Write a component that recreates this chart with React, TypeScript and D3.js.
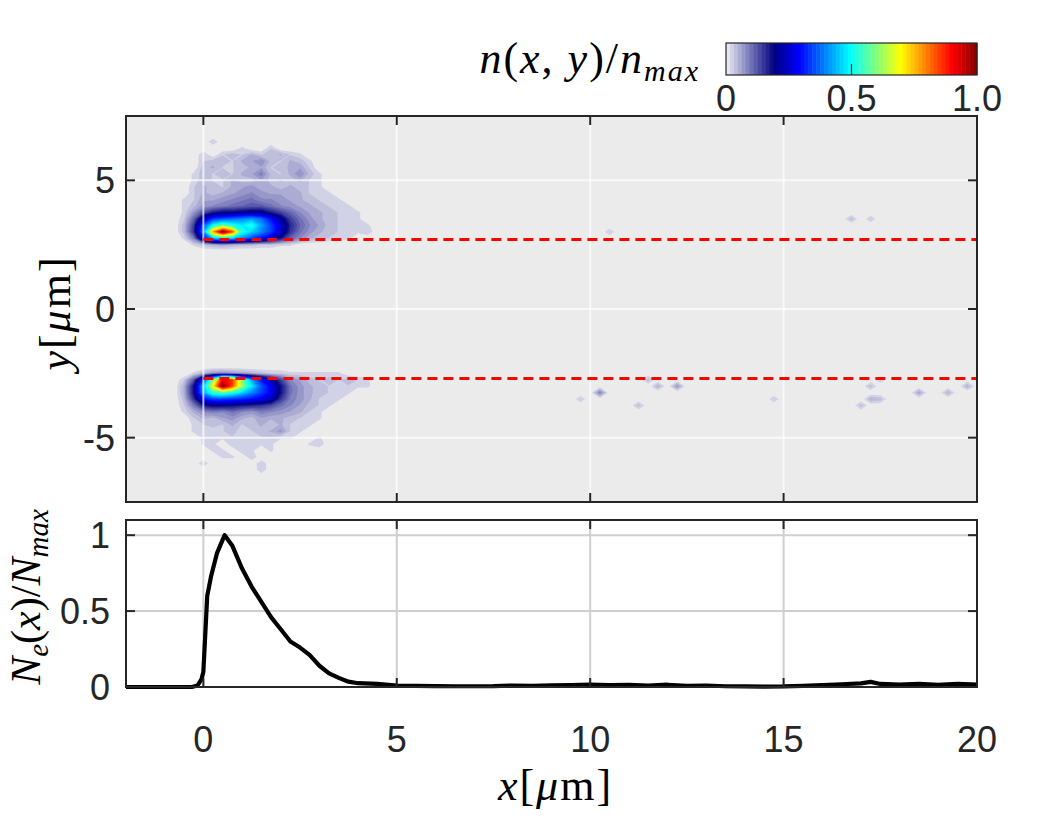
import React, { useMemo } from 'react';
import * as d3 from 'd3';

// density grid: 0.25 µm cells spanning x -2..20, y 7.5..-7.5
const GRID_X0 = -2;
const GRID_Y0 = 7.5;
const GRID_STEP = 0.25;
const GRID_NX = 89;
const GRID_NY = 61;

// upper beam, percent of n_max; first row at y=6.5, first column at x=-0.5
const upperBeamX0 = -0.5;
const upperBeamY0 = 6.5;
const upperBeam = [
  [0, 0, 0, 3, 0, 0, 0, 0, 0, 0, 0, 0, 0, 0, 0, 0, 0, 0, 0, 0, 0],
  [0, 0, 0, 0, 0, 0, 2, 0, 0, 3, 0, 0, 0, 0, 0, 0, 0, 0, 0, 0, 0],
  [0, 0, 3, 0, 3, 4, 3, 5, 3, 4, 5, 3, 2, 0, 0, 0, 0, 0, 0, 0, 0],
  [0, 0, 3, 4, 4, 3, 5, 6, 8, 4, 3, 5, 4, 2, 0, 0, 0, 0, 0, 0, 0],
  [0, 0, 4, 5, 3, 3, 4, 5, 6, 3, 4, 5, 6, 3, 0, 0, 0, 0, 0, 0, 0],
  [0, 2, 4, 3, 4, 3, 5, 6, 9, 4, 3, 5, 8, 4, 2, 0, 0, 0, 0, 0, 0],
  [0, 2, 4, 3, 3, 5, 4, 4, 6, 4, 5, 4, 5, 3, 2, 0, 0, 0, 0, 0, 0],
  [0, 3, 5, 4, 3, 5, 6, 7, 5, 5, 4, 5, 4, 3, 2, 0, 0, 0, 0, 0, 0],
  [0, 3, 5, 4, 5, 6, 7, 8, 7, 6, 6, 5, 5, 3, 2, 2, 0, 0, 0, 0, 0],
  [2, 3, 6, 6, 7, 8, 9, 10, 8, 8, 7, 6, 5, 4, 3, 2, 2, 0, 0, 0, 0],
  [2, 4, 7, 8, 9, 10, 11, 12, 12, 10, 8, 7, 6, 5, 4, 3, 2, 2, 0, 0, 0],
  [2, 7, 13, 17, 19, 19, 20, 21, 21, 17, 14, 11, 8, 6, 5, 4, 3, 2, 2, 0, 0],
  [3, 11, 25, 34, 36, 38, 40, 42, 38, 30, 22, 14, 10, 7, 5, 4, 3, 3, 2, 0, 0],
  [4, 14, 36, 50, 58, 52, 48, 52, 42, 34, 25, 16, 11, 8, 6, 4, 3, 3, 2, 2, 0],
  [4, 15, 40, 78, 100, 84, 52, 46, 40, 34, 25, 15, 10, 7, 5, 4, 3, 3, 2, 3, 0],
  [2, 9, 28, 44, 48, 46, 40, 34, 30, 24, 18, 11, 8, 5, 4, 3, 2, 2, 0, 0, 0],
  [0, 2, 4, 5, 6, 5, 4, 4, 3, 3, 2, 2, 0, 0, 0, 0, 0, 0, 0, 0, 0],
];

// lower beam, percent of n_max; first row at y=-2.5, first column at x=-0.5
const lowerBeamX0 = -0.5;
const lowerBeamY0 = -2.5;
const lowerBeam = [
  [0, 2, 5, 7, 8, 7, 6, 5, 4, 3, 3, 2, 2, 2, 2, 2, 2, 0, 0, 0, 0],
  [3, 12, 34, 60, 92, 86, 60, 42, 30, 22, 14, 8, 6, 4, 3, 4, 3, 4, 3, 2, 0],
  [5, 18, 44, 70, 100, 84, 62, 48, 36, 28, 18, 10, 7, 5, 4, 3, 3, 3, 2, 2, 0],
  [5, 18, 42, 54, 56, 52, 46, 40, 34, 28, 18, 10, 7, 5, 4, 3, 2, 2, 0, 0, 0],
  [4, 15, 30, 34, 34, 33, 32, 30, 28, 24, 15, 9, 7, 5, 3, 2, 2, 0, 0, 0, 0],
  [3, 9, 17, 19, 19, 18, 17, 16, 15, 13, 10, 8, 6, 4, 3, 2, 0, 0, 0, 0, 0],
  [2, 5, 8, 9, 8, 10, 8, 7, 9, 8, 7, 6, 5, 3, 2, 0, 0, 0, 0, 0, 0],
  [0, 3, 5, 4, 6, 7, 5, 4, 6, 5, 5, 4, 3, 3, 2, 0, 0, 0, 0, 0, 0],
  [0, 2, 3, 4, 3, 5, 3, 4, 5, 3, 5, 3, 3, 2, 0, 0, 0, 0, 0, 0, 0],
  [0, 2, 3, 2, 3, 4, 2, 3, 4, 5, 7, 3, 2, 0, 0, 0, 0, 0, 0, 0, 0],
  [0, 0, 2, 3, 2, 3, 2, 2, 3, 3, 2, 2, 0, 0, 2, 0, 0, 0, 0, 0, 0],
  [0, 0, 2, 2, 0, 3, 2, 3, 2, 2, 0, 0, 0, 2, 3, 0, 0, 0, 0, 0, 0],
  [0, 0, 0, 2, 2, 0, 3, 2, 0, 2, 0, 0, 0, 0, 0, 0, 0, 0, 0, 0, 0],
  [0, 0, 0, 0, 2, 2, 0, 3, 0, 0, 0, 0, 0, 0, 0, 0, 0, 0, 0, 0, 0],
  [0, 0, 3, 0, 0, 0, 0, 0, 3, 0, 0, 0, 0, 0, 0, 0, 0, 0, 0, 0, 0],
  [0, 0, 0, 0, 0, 0, 0, 0, 3, 0, 0, 0, 0, 0, 0, 0, 0, 0, 0, 0, 0],
];

// isolated electrons further downstream (µm, µm, percent of n_max)
const strayX = [9.75, 10.25, 11.25, 11.5, 11.75, 12.25, 14.75, 17.0, 17.25, 17.25, 17.5, 17.5, 18.5, 19.25, 19.75, 16.75, 17.25, 10.5];
const strayY = [-3.5, -3.25, -3.75, -2.75, -3.0, -3.0, -3.5, -3.75, -3.0, -3.5, -2.75, -3.5, -3.25, -3.25, -3.0, 3.5, 3.5, 3.0];
const strayN = [3, 9, 4, 4, 5, 7, 3, 4, 4, 5, 3, 4, 6, 5, 5, 4, 3, 3];

// channel walls (µm)
const wallY = [2.7, -2.7];

// integrated profile N_e(x)/N_max
const profileX = [-2, -1, -0.3, -0.15, -0.05, 0, 0.1, 0.2, 0.35, 0.55, 0.75, 1.0, 1.25, 1.5, 1.75, 2.0, 2.25, 2.5, 2.75, 3.0, 3.25, 3.5, 3.75, 4.0, 4.5, 5.0, 5.5, 6.0, 6.5, 7.0, 7.5, 8.0, 8.5, 9.0, 9.5, 10.0, 10.5, 11.0, 11.5, 12.0, 12.5, 13.0, 13.5, 14.0, 14.5, 15.0, 15.5, 16.0, 16.5, 17.0, 17.25, 17.5, 18.0, 18.5, 19.0, 19.5, 20.0];
const profileN = [0, 0, 0, 0.01, 0.05, 0.1, 0.6, 0.73, 0.88, 1.0, 0.93, 0.78, 0.66, 0.56, 0.46, 0.38, 0.3, 0.26, 0.21, 0.14, 0.09, 0.06, 0.035, 0.025, 0.02, 0.01, 0.007, 0.006, 0.005, 0.005, 0.006, 0.01, 0.008, 0.011, 0.012, 0.015, 0.013, 0.014, 0.01, 0.015, 0.008, 0.01, 0.005, 0.004, 0.003, 0.004, 0.008, 0.012, 0.018, 0.024, 0.034, 0.02, 0.015, 0.02, 0.014, 0.02, 0.015];

const xTicks = [0, 5, 10, 15, 20];
const yTicks = [-5, 0, 5];
const profileTicks = [0, 0.5, 1];
const colorTicks = [0, 0.5, 1.0];
const colorTickLabels = ['0', '0.5', '1.0'];

const N_LEVELS = 64;

// white -> navy, then jet from navy to dark red
function densityColor(t: number) {
  const knee = 0.19;
  if (t < knee) {
    const f = t / knee;
    return d3.rgb(240 * (1 - f), 240 * (1 - f), 244 * (1 - f) + 128 * f).toString();
  }
  const s = (t - knee) / (1 - knee);
  const c = (v: number) => Math.max(0, Math.min(1, v)) * 255;
  return d3.rgb(c(1.5 - Math.abs(4 * s - 3)), c(1.5 - Math.abs(4 * s - 2)), c(1.5 - Math.abs(4 * s - 1))).toString();
}

function buildField() {
  const f = new Array(GRID_NX * GRID_NY).fill(0);
  const put = (x: number, y: number, v: number) => {
    const i = Math.round((x - GRID_X0) / GRID_STEP);
    const j = Math.round((GRID_Y0 - y) / GRID_STEP);
    if (i < 0 || i >= GRID_NX || j < 0 || j >= GRID_NY) return;
    f[j * GRID_NX + i] = Math.max(f[j * GRID_NX + i], v / 100);
  };
  upperBeam.forEach((row, r) =>
    row.forEach((v, c) => put(upperBeamX0 + c * GRID_STEP, upperBeamY0 - r * GRID_STEP, v)));
  lowerBeam.forEach((row, r) =>
    row.forEach((v, c) => put(lowerBeamX0 + c * GRID_STEP, lowerBeamY0 - r * GRID_STEP, v)));
  strayX.forEach((x, i) => put(x, strayY[i], strayN[i]));
  return f;
}

const tickFont = '"Liberation Sans", Arial, Helvetica, sans-serif';
const texFont = '"Liberation Serif", "Times New Roman", serif';
const axisColor = '#262626';

export default function App() {
  const left = 126, right = 977;
  const mapTop = 116, mapBottom = 502;
  const profTop = 520, profBottom = 687;
  const barX0 = 726, barX1 = 977, barY0 = 43, barY1 = 75;
  const tickLen = 9;
  const tickSize = 36;

  const x = d3.scaleLinear().domain([-2, 20]).range([left, right]);
  const y = d3.scaleLinear().domain([-7.5, 7.5]).range([mapBottom, mapTop]);
  const yp = d3.scaleLinear().domain([0, 1.1]).range([profBottom, profTop]);
  const cbar = d3.scaleLinear().domain([0, 1]).range([barX0, barX1]);

  const bands = useMemo(() => {
    const field = buildField();
    const levels = d3.range(1, N_LEVELS).map((k) => k / N_LEVELS);
    const polys = d3.contours().size([GRID_NX, GRID_NY]).thresholds(levels)(field);
    const proj = d3.geoTransform({
      point(px: number, py: number) {
        // cell (i, j) sits at (i + 0.5, j + 0.5) in contour space
        (this as any).stream.point(
          x(GRID_X0 + (px - 0.5) * GRID_STEP),
          y(GRID_Y0 - (py - 0.5) * GRID_STEP),
        );
      },
    });
    const path = d3.geoPath(proj);
    return polys
      .filter((p) => p.coordinates.length > 0)
      .map((p) => {
        const k = Math.round(p.value * N_LEVELS);
        return { d: path(p as any) || '', fill: densityColor((k + 0.5) / N_LEVELS), k };
      });
  }, []);

  const line = d3.line<number>()
    .x((_, i) => x(profileX[i]))
    .y((v) => yp(v));

  const gridX = xTicks.filter((t) => t < 20);

  return (
    <svg width={1050} height={838} style={{ position: 'absolute', left: 0, top: 0, background: '#fff' }}>
      <defs>
        <clipPath id="mapClip">
          <rect x={left} y={mapTop} width={right - left} height={mapBottom - mapTop} />
        </clipPath>
        <clipPath id="profClip">
          <rect x={left} y={profTop - 5} width={right - left} height={profBottom - profTop + 10} />
        </clipPath>
      </defs>

      {/* density map */}
      <rect x={left} y={mapTop} width={right - left} height={mapBottom - mapTop} fill="#ebebeb" />
      <g clipPath="url(#mapClip)">
        {bands.map((b) => (
          <path key={b.k} d={b.d} fill={b.fill} stroke="none" />
        ))}
        {gridX.map((t) => (
          <line key={'gx' + t} x1={x(t)} x2={x(t)} y1={mapTop} y2={mapBottom} stroke="#ffffff" strokeOpacity={0.7} strokeWidth={2} />
        ))}
        {yTicks.map((t) => (
          <line key={'gy' + t} x1={left} x2={right} y1={y(t)} y2={y(t)} stroke="#ffffff" strokeOpacity={0.7} strokeWidth={2} />
        ))}
        {wallY.map((w) => (
          <line key={'w' + w} x1={x(0)} x2={right} y1={y(w)} y2={y(w)} stroke="#ff0000" strokeWidth={3} strokeDasharray="10,6" />
        ))}
      </g>
      <rect x={left} y={mapTop} width={right - left} height={mapBottom - mapTop} fill="none" stroke={axisColor} strokeWidth={2} />
      {gridX.map((t) => (
        <g key={'mt' + t}>
          <line x1={x(t)} x2={x(t)} y1={mapTop} y2={mapTop + tickLen} stroke={axisColor} strokeWidth={2} />
          <line x1={x(t)} x2={x(t)} y1={mapBottom} y2={mapBottom - tickLen} stroke={axisColor} strokeWidth={2} />
        </g>
      ))}
      {yTicks.map((t) => (
        <g key={'my' + t}>
          <line x1={left} x2={left + tickLen} y1={y(t)} y2={y(t)} stroke={axisColor} strokeWidth={2} />
          <line x1={right} x2={right - tickLen} y1={y(t)} y2={y(t)} stroke={axisColor} strokeWidth={2} />
          <text x={left - 11} y={y(t)} dy="0.36em" textAnchor="end" fontFamily={tickFont} fontSize={tickSize} fill={axisColor}>
            {t}
          </text>
        </g>
      ))}

      {/* integrated profile */}
      <rect x={left} y={profTop} width={right - left} height={profBottom - profTop} fill="#fff" />
      {gridX.map((t) => (
        <line key={'pgx' + t} x1={x(t)} x2={x(t)} y1={profTop} y2={profBottom} stroke="#cfcfcf" strokeWidth={2} />
      ))}
      {profileTicks.filter((t) => t > 0).map((t) => (
        <line key={'pgy' + t} x1={left} x2={right} y1={yp(t)} y2={yp(t)} stroke="#cfcfcf" strokeWidth={2} />
      ))}
      <path d={line(profileN) || ''} fill="none" stroke="#000" strokeWidth={4.2} strokeLinejoin="round" clipPath="url(#profClip)" />
      <rect x={left} y={profTop} width={right - left} height={profBottom - profTop} fill="none" stroke={axisColor} strokeWidth={2} />
      {gridX.map((t) => (
        <g key={'pt' + t}>
          <line x1={x(t)} x2={x(t)} y1={profTop} y2={profTop + tickLen} stroke={axisColor} strokeWidth={2} />
          <line x1={x(t)} x2={x(t)} y1={profBottom} y2={profBottom - tickLen} stroke={axisColor} strokeWidth={2} />
        </g>
      ))}
      {profileTicks.map((t) => (
        <g key={'py' + t}>
          <line x1={left} x2={left + tickLen} y1={yp(t)} y2={yp(t)} stroke={axisColor} strokeWidth={2} />
          <line x1={right} x2={right - tickLen} y1={yp(t)} y2={yp(t)} stroke={axisColor} strokeWidth={2} />
          <text x={left - 16} y={yp(t)} dy="0.36em" textAnchor="end" fontFamily={tickFont} fontSize={tickSize} fill={axisColor}>
            {t}
          </text>
        </g>
      ))}
      {xTicks.map((t) => (
        <text key={'xl' + t} x={x(t)} y={752} textAnchor="middle" fontFamily={tickFont} fontSize={tickSize} fill={axisColor}>
          {t}
        </text>
      ))}

      {/* axis labels */}
      <text x={(left + right) / 2 + 4} y={800} textAnchor="middle" fontFamily={texFont} fontSize={44} letterSpacing={2} fill="#000">
        <tspan fontStyle="italic">x</tspan>[<tspan fontStyle="italic">μ</tspan>m]
      </text>
      <text transform="translate(70,313) rotate(-90)" textAnchor="middle" fontFamily={texFont} fontSize={44} letterSpacing={2} fill="#000">
        <tspan fontStyle="italic">y</tspan>[<tspan fontStyle="italic">μ</tspan>m]
      </text>
      <text transform="translate(40,597) rotate(-90)" textAnchor="middle" fontFamily={texFont} fontSize={42} fill="#000">
        <tspan fontStyle="italic">N</tspan>
        <tspan fontStyle="italic" fontSize={29} dy={8}>e</tspan>
        <tspan dy={-8}>(</tspan>
        <tspan fontStyle="italic">x</tspan>
        <tspan>)/</tspan>
        <tspan fontStyle="italic">N</tspan>
        <tspan fontStyle="italic" fontSize={29} dy={8}>max</tspan>
      </text>

      {/* colour bar */}
      {d3.range(N_LEVELS).map((k) => (
        <rect key={'cb' + k} x={cbar(k / N_LEVELS)} y={barY0} width={cbar((k + 1) / N_LEVELS) - cbar(k / N_LEVELS) + 0.5}
          height={barY1 - barY0} fill={densityColor((k + 0.5) / N_LEVELS)} />
      ))}
      <rect x={barX0} y={barY0} width={barX1 - barX0} height={barY1 - barY0} fill="none" stroke={axisColor} strokeWidth={1.2} />
      <line x1={cbar(0.5)} x2={cbar(0.5)} y1={barY1} y2={barY1 - 11} stroke={axisColor} strokeWidth={1.2} />
      {colorTicks.map((t, i) => (
        <text key={'ct' + i} x={cbar(t)} y={111} textAnchor="middle" fontFamily={tickFont} fontSize={tickSize} fill={axisColor}>
          {colorTickLabels[i]}
        </text>
      ))}
      <text x={700} y={73} textAnchor="end" fontFamily={texFont} fontSize={44} letterSpacing={2} fill="#000">
        <tspan fontStyle="italic">n</tspan>(<tspan fontStyle="italic">x</tspan>, <tspan fontStyle="italic">y</tspan>)/<tspan fontStyle="italic">n</tspan>
        <tspan fontStyle="italic" fontSize={30} dy={8}>max</tspan>
      </text>
    </svg>
  );
}
